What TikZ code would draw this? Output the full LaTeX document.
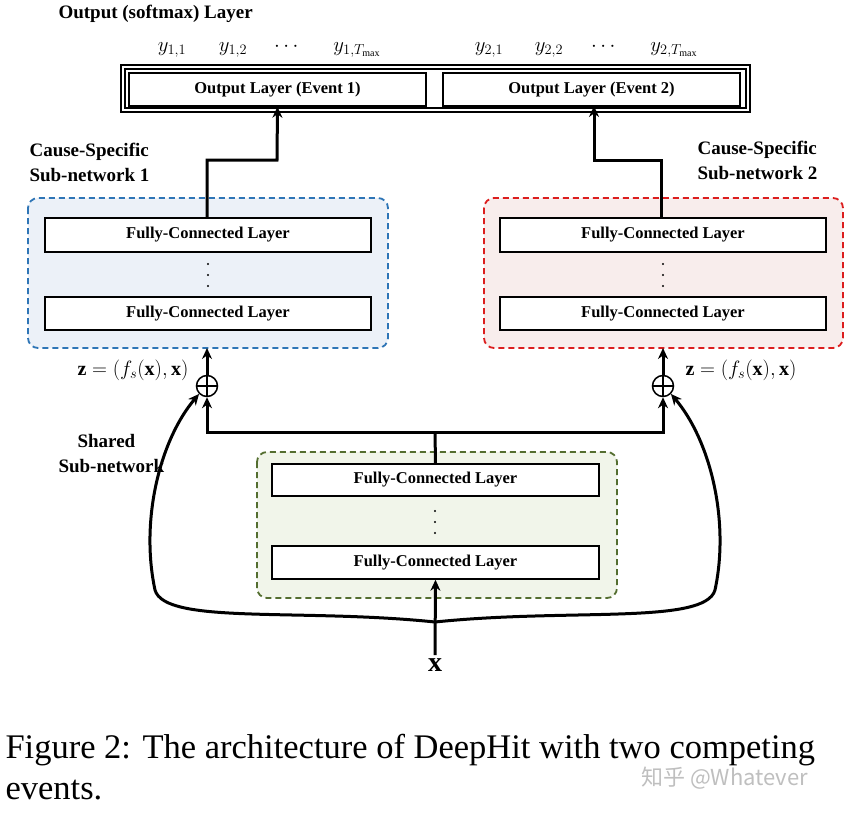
\documentclass[tikz,border=0pt]{standalone}
\usepackage{fontspec}
\setmainfont{Liberation Serif}
\newfontfamily\cjk{Noto Sans CJK SC}
\usepackage{amsmath}
\usetikzlibrary{arrows.meta}
\begin{document}
\begin{tikzpicture}[x=1pt,y=-1pt,
  fc/.style={draw,line width=1.5pt,fill=white,font=\bfseries\fontsize{16.5}{18}\selectfont},
  lab/.style={font=\bfseries\fontsize{19}{25}\selectfont,align=left,anchor=west},
  arr/.style={line width=3pt,-{Stealth[length=11pt,width=10pt]}},
  ln/.style={line width=3pt},
  dt/.style={circle,fill,inner sep=0,minimum size=2.2pt},
  dsh/.style={line width=1.8pt,dash pattern=on 6pt off 4pt,rounded corners=10}]
\useasboundingbox (0,0) rectangle (860,814);
\node[lab] (t) at (55,14) {Output (softmax) Layer};
\draw[line width=1.5pt] (121,65) rectangle (750,112);
\draw[line width=1.5pt] (125,69) rectangle (746,108);
\node[fc,minimum width=297,minimum height=33] (o1) at (277.5,89.5) {Output Layer (Event 1)};
\node[fc,minimum width=297,minimum height=33] (o2) at (591.5,89.5) {Output Layer (Event 2)};
\foreach \p/\t/\n in {172/{y_{1,1}}/a,233/{y_{1,2}}/b,357/{y_{1,T_{\max}}}/c,489/{y_{2,1}}/d,549/{y_{2,2}}/e,674/{y_{2,T_{\max}}}/f}
  \node[font=\fontsize{20}{22}\selectfont] (y\n) at (\p,50) {$\t$};
\node[font=\fontsize{20}{22}\selectfont] (d1) at (288,47) {$\cdots$};
\node[font=\fontsize{20}{22}\selectfont] (d2) at (605,47) {$\cdots$};
% subnetwork 1
\node[lab] (c1) at (26,162) {Cause-Specific\\Sub-network 1};
\draw[dsh,draw={rgb,255:red,46;green,117;blue,182},fill={rgb,255:red,236;green,241;blue,248}] (28,198) rectangle (388,348);
\node[fc,minimum width=326,minimum height=34] (a1) at (208,235) {Fully-Connected Layer};
\node[fc,minimum width=326,minimum height=33] (a2) at (208,313.5) {Fully-Connected Layer};
\foreach \yy [count=\i] in {264,275,286} \node[dt] (av\i) at (208,\yy) {};
% subnetwork 2
\node[lab] (c2) at (694,160) {Cause-Specific\\Sub-network 2};
\draw[dsh,draw={rgb,255:red,220;green,30;blue,30},fill={rgb,255:red,248;green,237;blue,236}] (484,198) rectangle (843,348);
\node[fc,minimum width=326,minimum height=34] (b1) at (663,235) {Fully-Connected Layer};
\node[fc,minimum width=326,minimum height=33] (b2) at (663,313.5) {Fully-Connected Layer};
\foreach \yy [count=\i] in {264,275,286} \node[dt] (bv\i) at (663,\yy) {};
% shared
\node[lab] (sh) at (55,454) {\quad Shared\\Sub-network};
\draw[dsh,draw={rgb,255:red,84;green,110;blue,48},fill={rgb,255:red,241;green,245;blue,234}] (257,452) rectangle (617,598);
\node[fc,minimum width=327,minimum height=32] (s1) at (435.5,480) {Fully-Connected Layer};
\node[fc,minimum width=327,minimum height=33] (s2) at (435.5,562.5) {Fully-Connected Layer};
\foreach \yy [count=\i] in {511,522,533} \node[dt] (sv\i) at (435,\yy) {};
\node[font=\bfseries\fontsize{28}{30}\selectfont] (x) at (435,665) {x};
% oplus
\node[draw,line width=1.5pt,circle,minimum size=21,inner sep=0] (p1) at (207,386) {};
\draw[line width=1.5pt] (p1.north)--(p1.south) (p1.west)--(p1.east);
\node[draw,line width=1.5pt,circle,minimum size=21,inner sep=0] (p2) at (663,386) {};
\draw[line width=1.5pt] (p2.north)--(p2.south) (p2.west)--(p2.east);
\node[font=\fontsize{20}{22}\selectfont,anchor=east] (z1) at (192,370) {$\mathbf z=(f_s(\mathbf x),\mathbf x)$};
\node[font=\fontsize{20}{22}\selectfont,anchor=west] (z2) at (682,370) {$\mathbf z=(f_s(\mathbf x),\mathbf x)$};
% connectors
\coordinate (u1) at (207,160); \coordinate (u2) at (277,160);
\draw[arr] (a1.north -| u1) -- (u1) -- (u2) -- (o1.south);
\coordinate (v1) at (661,160); \coordinate (v2) at (594,160);
\draw[arr] (661,218) -- (v1) -- (v2) -- (594,106);
\draw[arr] (p1.north) -- (207,348);
\draw[arr] (p2.north) -- (663,348);
\coordinate (h) at (435,432);
\draw[ln] (s1.north) -- (h);
\draw[arr] (h) -- (207,432) -- (p1.south);
\draw[arr] (h) -- (663,432) -- (p2.south);
\draw[arr] (x.north) -- (s2.south);
\draw[arr] (435,622) .. controls (300,608) and (165,625) .. (155,590) .. controls (140,520) and (160,440) .. (p1.south west);
\draw[arr] (435,622) .. controls (570,608) and (705,625) .. (715,590) .. controls (730,520) and (710,440) .. (p2.south east);
% caption
\node[anchor=west,font=\fontsize{34.5}{40}\selectfont] (cap1) at (2,750) {Figure 2: The architecture of DeepHit with two competing};
\node[anchor=west,font=\fontsize{34.5}{40}\selectfont] (cap2) at (2,790) {events.};
\node[anchor=west,text=gray!50,font=\cjk\fontsize{22}{24}\selectfont,fill=white,inner sep=1pt] (wm) at (640,778) {知乎 @Whatever};
\end{tikzpicture}
\end{document}
